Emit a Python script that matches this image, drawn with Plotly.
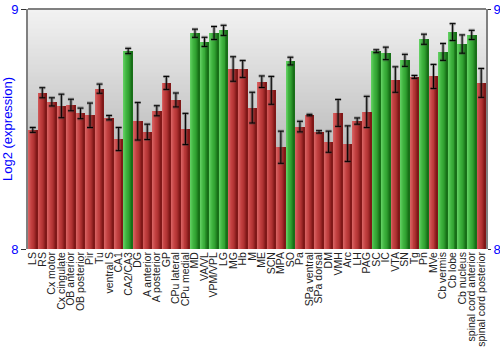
import plotly.graph_objects as go

# Brain regions, mean log2 expression and standard error
regions = [
    "LS", "RS", "Cx motor", "Cx cingulate", "OB anterior", "OB posterior", "Pir", "Tu",
    "ventral S", "CA1", "CA2/CA3", "DG", "A anterior", "A posterior", "GP", "CPu lateral",
    "CPu medial", "MD", "VA/VL", "VPM/VPL", "LG", "MG", "Hb", "M", "ME", "SCN", "MPA", "SO",
    "Pa", "SPa ventral", "SPa dorsal", "DM", "VMH", "Arc", "LH", "PAG", "SC", "IC", "VTA",
    "SN", "Tg", "Pn", "MVe", "Cb vermis", "Cb lobe", "Cb nucleus", "spinal cord anterior",
    "spinal cord posterior",
]
expression = [
    8.496, 8.651, 8.613, 8.596, 8.600, 8.565, 8.557, 8.668,
    8.547, 8.458, 8.825, 8.532, 8.488, 8.576, 8.692, 8.621,
    8.500, 8.899, 8.863, 8.900, 8.911, 8.750, 8.750, 8.589, 8.697, 8.661, 8.424, 8.783,
    8.510, 8.558, 8.488, 8.447, 8.567, 8.439, 8.533, 8.571, 8.824, 8.815, 8.706,
    8.786, 8.717, 8.874, 8.719, 8.821, 8.904, 8.854, 8.892,
    8.692,
]
std_error = [
    0.010, 0.021, 0.017, 0.049, 0.024, 0.022, 0.051, 0.019,
    0.009, 0.048, 0.011, 0.078, 0.032, 0.021, 0.027, 0.029,
    0.065, 0.017, 0.019, 0.027, 0.021, 0.051, 0.035, 0.064, 0.024, 0.058, 0.067, 0.016,
    0.022, 0.003, 0.005, 0.044, 0.056, 0.074, 0.013, 0.065, 0.006, 0.026, 0.053,
    0.025, 0.006, 0.021, 0.050, 0.035, 0.035, 0.038, 0.019,
    0.060,
]
# Regions flagged as enriched are drawn in green
enriched = [
    "CA2/CA3", "MD", "VA/VL", "VPM/VPL", "LG", "SO", "SC", "IC", "SN", "Pn",
    "Cb vermis", "Cb lobe", "Cb nucleus", "spinal cord anterior",
]
y_ticks = [8, 9]


def mix(c1, c2, t):
    return "rgb(%d,%d,%d)" % tuple(round(a + (b - a) * t) for a, b in zip(c1, c2))


# Horizontal shading of each bar: light left edge -> dark right edge
RED = [(214, 96, 96), (196, 66, 66), (176, 50, 50), (128, 24, 24)]
GREEN = [(96, 206, 96), (64, 180, 64), (48, 160, 48), (24, 112, 24)]


def shade(stops, t):
    seg = min(int(t * (len(stops) - 1)), len(stops) - 2)
    local = t * (len(stops) - 1) - seg
    return mix(stops[seg], stops[seg + 1], local)


fig = go.Figure()

n_strips = 9
bar_width = 0.9
strip_w = bar_width / n_strips
for i in range(n_strips):
    t = i / (n_strips - 1)
    colors = [shade(GREEN if r in enriched else RED, t) for r in regions]
    fig.add_trace(go.Bar(
        x=regions, y=expression,
        width=strip_w + 0.004, offset=-bar_width / 2 + i * strip_w,
        marker=dict(color=colors, line=dict(width=0)),
        showlegend=False, hoverinfo="skip",
    ))

# Error bars: soft grey halo under a thin black whisker
fig.add_trace(go.Scatter(
    x=regions, y=expression, mode="markers", marker=dict(size=0.1, color="rgba(0,0,0,0)"),
    error_y=dict(type="data", array=std_error, color="rgba(60,60,60,0.45)", thickness=3, width=3),
    showlegend=False, hoverinfo="skip",
))
fig.add_trace(go.Scatter(
    x=regions, y=expression, mode="markers", marker=dict(size=0.1, color="rgba(0,0,0,0)"),
    error_y=dict(type="data", array=std_error, color="black", thickness=1, width=3),
    showlegend=False, hoverinfo="skip",
))
# Mirror axis on the right
fig.add_trace(go.Scatter(
    x=[regions[0]], y=[8.5], yaxis="y2", mode="markers",
    marker=dict(color="rgba(0,0,0,0)"), showlegend=False, hoverinfo="skip",
))

# Vertical grey gradient behind the plot area
shapes = []
n_bands = 60
top, bottom = (242, 242, 242), (150, 150, 150)
for k in range(n_bands):
    shapes.append(dict(
        type="rect", xref="paper", yref="paper", layer="below",
        x0=0, x1=1, y0=1 - (k + 1) / n_bands, y1=1 - k / n_bands + 0.002,
        fillcolor=mix(top, bottom, k / (n_bands - 1)), line=dict(width=0),
    ))
shapes.append(dict(type="line", xref="paper", yref="paper", x0=0, x1=1, y0=1, y1=1,
                   line=dict(color="#808080", width=2), layer="above"))

fig.update_layout(
    width=500, height=350,
    margin=dict(l=28, r=14, t=9, b=101),
    paper_bgcolor="white", plot_bgcolor="rgba(0,0,0,0)",
    barmode="overlay", bargap=0,
    font=dict(family="Liberation Sans, Arial, sans-serif"),
    shapes=shapes,
    xaxis=dict(
        type="category", tickangle=-90, showgrid=False, ticks="",
        tickmode="array", tickvals=regions, ticktext=regions,
        tickfont=dict(size=10.5, color="#222"), showline=False, zeroline=False,
        automargin=False, range=[-0.5, len(regions) - 0.5],
    ),
    yaxis=dict(
        range=[8, 9], tickvals=y_ticks, ticktext=[str(v) for v in y_ticks],
        tickfont=dict(size=13, color="#0000ff"), ticks="outside", ticklen=5,
        tickcolor="#333", showgrid=False, zeroline=False,
        showline=True, linecolor="#808080", linewidth=2, automargin=False,
        title=dict(text="Log2 (expression)", font=dict(size=13, color="#0000ff"), standoff=0),
    ),
    yaxis2=dict(
        range=[8, 9], overlaying="y", side="right", tickvals=y_ticks,
        ticktext=[str(v) for v in y_ticks],
        tickfont=dict(size=13, color="#0000ff"), ticks="outside", ticklen=3,
        tickcolor="#333", showgrid=False, zeroline=False,
        showline=True, linecolor="#808080", linewidth=2, automargin=False,
    ),
)

fig.write_html("out.html")
